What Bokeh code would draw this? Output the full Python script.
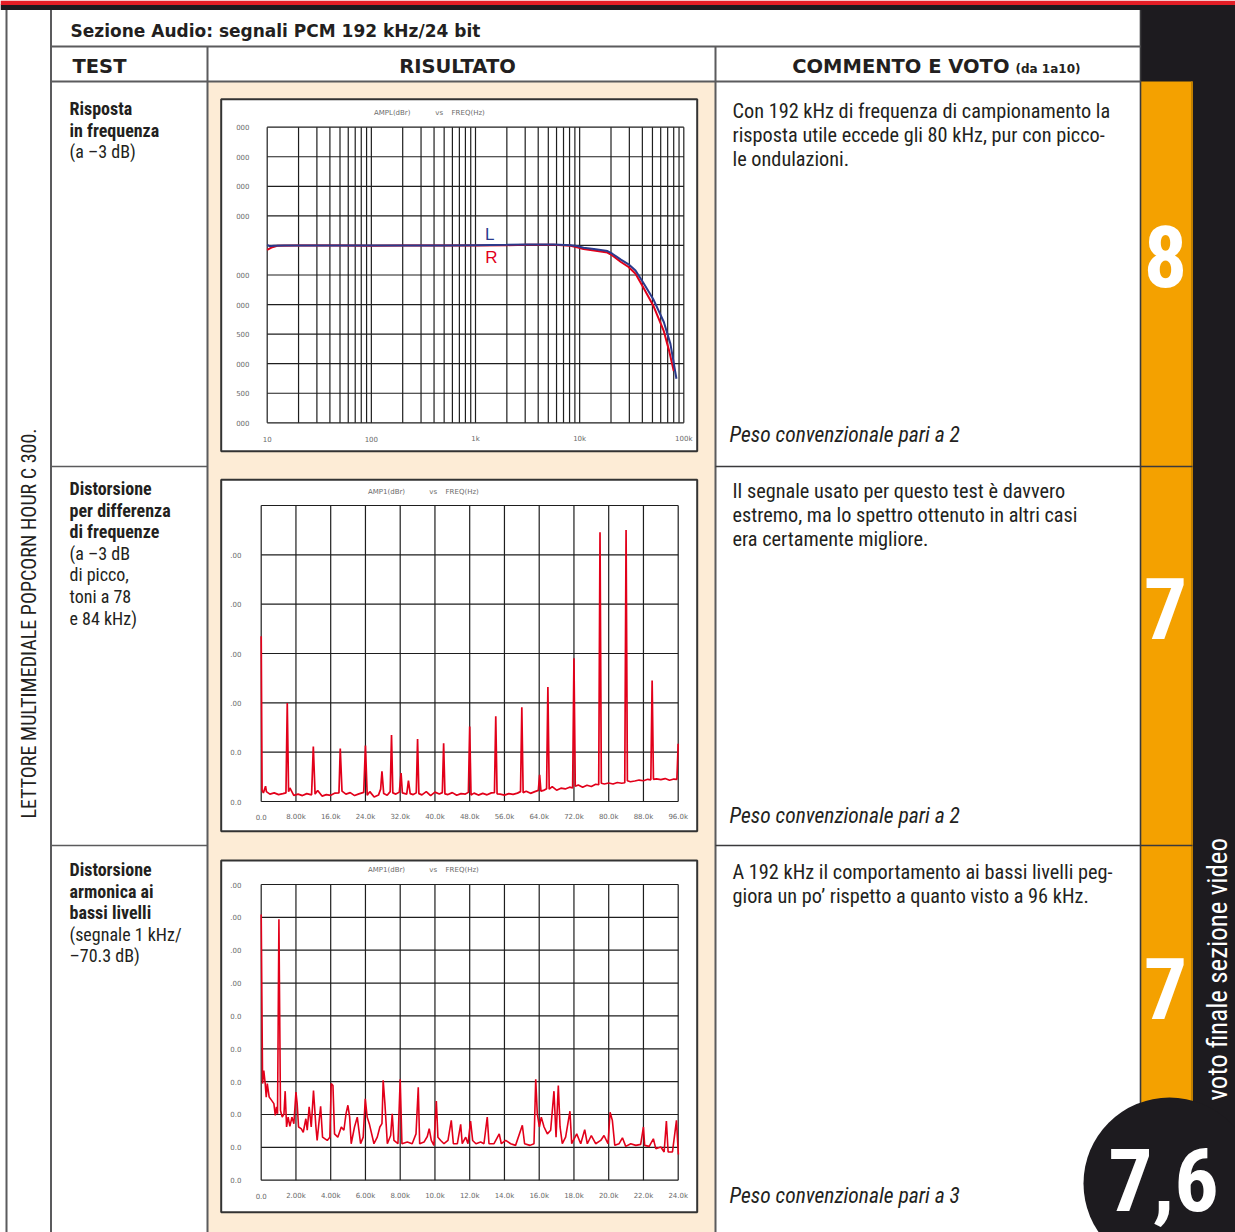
import math
from bokeh.plotting import figure
from bokeh.models import Range1d, LogScale
from bokeh.embed import file_html
from bokeh.resources import INLINE
from bokeh.core.properties import value

# ---------------- texts ----------------
section_title = "Sezione Audio: segnali PCM 192 kHz/24 bit"
hdr_test = "TEST"
hdr_result = "RISULTATO"
hdr_comment = "COMMENTO E VOTO"
hdr_note = "(da 1a10)"
side_label = "LETTORE MULTIMEDIALE POPCORN HOUR C 300."
final_label = "voto finale sezione video"
final_score = "7,6"
scores = ["8", "7", "7"]
test_bold = [["Risposta", "in frequenza"],
             ["Distorsione", "per differenza", "di frequenze"],
             ["Distorsione", "armonica ai", "bassi livelli"]]
test_plain = [["(a \u20133 dB)"],
              ["(a \u20133 dB", "di picco,", "toni a 78", "e 84 kHz)"],
              ["(segnale 1 kHz/", "\u201370.3 dB)"]]
comments = [["Con 192 kHz di frequenza di campionamento la",
             "risposta utile eccede gli 80 kHz, pur con picco-",
             "le ondulazioni."],
            ["Il segnale usato per questo test \u00e8 davvero",
             "estremo, ma lo spettro ottenuto in altri casi",
             "era certamente migliore."],
            ["A 192 kHz il comportamento ai bassi livelli peg-",
             "giora un po\u2019 rispetto a quanto visto a 96 kHz."]]
weights = ["Peso convenzionale pari a 2", "Peso convenzionale pari a 2",
           "Peso convenzionale pari a 3"]

# ---------------- chart 1: frequency response (Hz, dBr) ----------------
fr_freq_L = [10, 10.6, 11.6, 14.5, 20, 50, 100, 200, 500, 1000, 2000, 3130, 5650,
             8170, 9420, 10900, 13700, 18500, 20600, 24900, 29500, 34400, 41000,
             51300, 64300, 74400, 85000]
fr_ampl_L = [0.02, -0.03, -0.01, 0.0, 0.0, 0.0, 0.0, 0.0, 0.0, 0.01, 0.02, 0.03, 0.03,
             0.01, -0.02, -0.08, -0.12, -0.19, -0.28, -0.48, -0.64, -0.85, -1.27,
             -1.84, -2.59, -3.33, -4.51]
fr_freq_R = [10, 11.2, 12.5, 20, 50, 100, 200, 500, 1000, 2000, 3130, 5650, 8170,
             9420, 10900, 13700, 18500, 20600, 24900, 29500, 34400, 41000, 51300,
             64300, 72100, 80100]
fr_ampl_R = [-0.15, -0.06, -0.01, 0.0, 0.0, -0.01, 0.0, 0.0, 0.0, 0.01, 0.02, 0.02, -0.01,
             -0.06, -0.12, -0.17, -0.24, -0.34, -0.56, -0.73, -0.96, -1.43, -2.06,
             -2.90, -3.55, -4.25]
fr_x_ticks = [10, 100, 1000, 10000, 100000]
fr_x_labels = ["10", "100", "1k", "10k", "100k"]
fr_y_ticks = [4, 3, 2, 1, 0, -1, -2, -3, -4, -5, -6]
fr_y_labels = ["000", "000", "000", "000", "", "000", "000", "500", "000", "500", "000"]
fr_title = ["AMPL(dBr)", "vs", "FREQ(Hz)"]

# ---------------- chart 2: IMD spectrum (kHz, dBr) ----------------
imd_freq = [0.0, 0.2, 0.5, 1.0, 1.2, 2.0, 3.0, 4.0, 5.0, 5.7, 6.0, 6.3, 6.6, 7.5, 8.5,
            9.5, 10.5, 11.6, 12.0, 12.4, 13.0, 14.0, 15.0, 16.0, 17.0, 17.9, 18.2,
            18.6, 19.5, 20.5, 21.5, 22.5, 23.6, 24.0, 24.4, 25.0, 26.0, 27.0, 27.5,
            27.8, 28.2, 29.0, 29.7, 30.0, 30.3, 31.0, 31.8, 32.2, 32.5, 33.5, 33.9,
            34.3, 35.0, 35.7, 36.0, 36.3, 37.0, 38.0, 39.0, 40.0, 41.0, 41.7, 42.0,
            42.3, 43.0, 44.0, 45.0, 46.0, 47.0, 47.7, 48.0, 48.3, 49.0, 50.0, 51.0,
            52.0, 53.0, 53.7, 54.0, 54.3, 55.0, 56.0, 57.0, 58.0, 59.0, 59.7, 60.0,
            60.3, 61.0, 62.0, 63.0, 63.8, 64.1, 64.4, 65.0, 65.7, 66.0, 66.3, 67.0,
            68.0, 69.0, 70.0, 71.0, 71.7, 72.0, 72.3, 73.0, 74.0, 75.0, 76.0, 77.0,
            77.7, 78.0, 78.3, 79.0, 80.0, 81.0, 82.0, 83.0, 83.7, 84.0, 84.3, 85.0,
            86.0, 87.0, 88.0, 89.0, 89.7, 90.0, 90.3, 91.0, 92.0, 93.0, 94.0, 95.0,
            95.7, 96.0]
imd_level = [-53.0, -115.5, -116.5, -113.8, -116.0, -117.0, -116.5, -117.2, -116.8, -116.5,
             -80.1, -116.0, -114.5, -117.5, -117.0, -117.6, -116.8, -117.3, -97.7, -117.0,
             -115.5, -117.8, -117.2, -117.5, -116.6, -116.5, -98.5, -115.8, -117.0, -116.4,
             -117.6, -116.9, -116.3, -97.3, -117.5, -116.0, -118.2, -117.4, -115.0, -107.8,
             -116.8, -117.5, -116.0, -93.0, -116.5, -117.0, -116.2, -108.5, -116.5, -117.0,
             -111.5, -116.8, -117.2, -116.5, -94.7, -116.8, -117.3, -116.0, -117.6, -116.2,
             -117.0, -116.4, -96.4, -116.9, -117.2, -116.4, -117.5, -116.8, -117.0, -116.3,
             -89.6, -117.4, -116.6, -117.4, -116.7, -117.3, -116.5, -116.4, -85.4, -116.9,
             -117.0, -117.4, -116.8, -117.1, -116.6, -116.0, -81.8, -116.4, -115.8, -116.7,
             -116.0, -115.5, -109.2, -115.8, -115.5, -114.8, -73.6, -115.0, -114.0, -115.4,
             -114.6, -114.9, -114.2, -114.5, -61.9, -113.8, -113.3, -114.2, -113.4, -113.9,
             -113.0, -113.2, -10.8, -112.6, -112.9, -112.5, -112.9, -112.3, -112.6, -112.4,
             -9.9, -111.6, -112.0, -111.7, -111.3, -111.6, -111.0, -111.2, -70.9, -111.0,
             -110.8, -111.1, -110.7, -111.4, -110.9, -111.0, -96.6]
imd_x_ticks = [0, 8, 16, 24, 32, 40, 48, 56, 64, 72, 80, 88, 96]
imd_x_labels = ["0.0", "8.00k", "16.0k", "24.0k", "32.0k", "40.0k", "48.0k", "56.0k",
                "64.0k", "72.0k", "80.0k", "88.0k", "96.0k"]
imd_y_ticks = [0, -20, -40, -60, -80, -100, -120]
imd_y_labels = ["", ".00", ".00", ".00", ".00", "0.0", "0.0"]

# ---------------- chart 3: low level THD spectrum (kHz, dBr) ----------------
thd_freq = [0.00, 0.08, 0.15, 0.23, 0.29, 0.35, 0.46, 0.60, 0.73, 0.81, 0.88, 0.94, 1.02,
            1.11, 1.21, 1.31, 1.38, 1.46, 1.55, 1.65, 1.77, 1.88, 2.00, 2.07, 2.15, 2.30,
            2.42, 2.57, 2.65, 2.76, 2.88, 3.01, 3.15, 3.22, 3.42, 3.53, 3.80, 3.95, 4.03,
            4.13, 4.22, 4.41, 4.61, 4.76, 4.88, 4.99, 5.09, 5.18, 5.37, 5.53, 5.72, 5.87,
            5.99, 6.10, 6.22, 6.49, 6.68, 6.83, 6.95, 7.02, 7.12, 7.26, 7.45, 7.54, 7.64,
            7.87, 8.00, 8.10, 8.41, 8.69, 8.91, 9.04, 9.12, 9.37, 9.56, 9.67, 9.79, 9.94,
            10.08, 10.17, 10.33, 10.52, 10.75, 10.94, 11.06, 11.29, 11.48, 11.57, 11.77,
            11.90, 12.05, 12.17, 12.36, 12.63, 12.82, 13.01, 13.11, 13.40, 13.70, 13.82,
            14.07, 14.36, 14.64, 15.03, 15.16, 15.47, 15.70, 15.80, 15.89, 16.01, 16.12,
            16.28, 16.47, 16.66, 16.85, 16.97, 17.10, 17.20, 17.33, 17.52, 17.77, 17.87,
            18.16, 18.39, 18.62, 18.77, 19.00, 19.25, 19.54, 19.73, 19.96, 20.08, 20.21,
            20.35, 20.60, 20.79, 20.98, 21.27, 21.56, 21.84, 22.00, 22.07, 22.33, 22.57,
            22.71, 23.00, 23.19, 23.32, 23.42, 23.67, 23.90, 24.01]
thd_level = [-69.1, -120.6, -116.6, -120.6, -124.7, -120.6, -124.7, -125.7, -126.7, -130.3,
             -127.7, -129.8, -70.6, -128.8, -130.8, -129.8, -122.9, -133.8, -130.8, -133.6,
             -130.8, -132.8, -123.2, -126.7, -133.8, -134.3, -135.4, -131.3, -134.8, -127.7,
             -133.8, -122.7, -133.8, -137.9, -127.5, -136.9, -137.9, -136.9, -120.6, -121.2,
             -135.9, -136.9, -133.8, -134.8, -129.8, -127.2, -130.8, -138.9, -133.8, -130.8,
             -138.9, -136.9, -125.2, -130.8, -132.8, -138.9, -136.9, -133.8, -132.8, -119.6,
             -126.7, -138.9, -136.4, -129.8, -137.9, -138.9, -119.3, -138.9, -138.4, -138.9,
             -135.9, -121.7, -138.9, -138.4, -136.7, -134.3, -137.9, -139.4, -125.9, -136.9,
             -137.9, -138.9, -137.9, -131.8, -138.9, -138.9, -133.0, -138.9, -136.9, -138.9,
             -132.0, -137.9, -138.9, -138.4, -138.9, -130.8, -138.9, -138.9, -135.9, -138.9,
             -137.9, -138.9, -139.4, -133.3, -138.9, -139.4, -138.9, -119.3, -129.8, -133.8,
             -130.8, -133.8, -135.9, -134.8, -122.9, -136.9, -121.2, -133.8, -138.9, -136.9,
             -129.0, -138.9, -135.9, -138.9, -134.6, -138.9, -136.4, -138.9, -137.9, -136.4,
             -138.9, -129.3, -131.8, -139.4, -138.9, -137.1, -139.7, -138.9, -139.4, -139.1,
             -133.8, -139.4, -139.7, -137.4, -140.4, -139.9, -141.4, -132.0, -141.4, -141.4,
             -131.8, -142.2]
thd_x_ticks = [0, 2, 4, 6, 8, 10, 12, 14, 16, 18, 20, 22, 24]
thd_x_labels = ["0.0", "2.00k", "4.00k", "6.00k", "8.00k", "10.0k", "12.0k", "14.0k",
                "16.0k", "18.0k", "20.0k", "22.0k", "24.0k"]
thd_y_ticks = [-60, -70, -80, -90, -100, -110, -120, -130, -140, -150]
thd_y_labels = [".00", ".00", ".00", ".00", "0.0", "0.0", "0.0", "0.0", "0.0", "0.0"]
spec_title = ["AMP1(dBr)", "vs", "FREQ(Hz)"]

# ---------------- styles ----------------
RED_TOP = "#e41e26"
DARK = "#1d1b1f"
ORANGE = "#f4a100"
BEIGE = "#fdecd6"
LINE = "#5b5b5d"
TEXT = "#231f20"
TRACE_RED = "#e2001a"
TRACE_BLUE = "#2b3a8c"
GRID = "#1e1e1e"
LABEL = "#6a6a6a"
NARROW = "Roboto Condensed"
HEAD = "DejaVu Sans"
SMALL = "DejaVu Sans"

W, H = 1235, 1232
p = figure(width=W, height=H, x_range=Range1d(0, W), y_range=Range1d(H, 0),
           output_backend="svg", toolbar_location=None, min_border=0,
           x_axis_location=None, y_axis_location=None, outline_line_color=None,
           background_fill_color="white", border_fill_color="white")
p.grid.visible = False


def txt(x, y, s, size, font=NARROW, color=TEXT, style="normal", align="left",
        baseline="middle", angle=0.0):
    p.text(x=[x], y=[y], text=[s], text_font=value(font), text_font_size=f"{size}px",
           text_color=color, text_font_style=style, text_align=align,
           text_baseline=baseline, angle=angle)


def hline(y, x0, x1, color=LINE, w=1.6):
    p.segment(x0=[x0], y0=[y], x1=[x1], y1=[y], line_color=color, line_width=w)


def vline(x, y0, y1, color=LINE, w=1.6):
    p.segment(x0=[x], y0=[y0], x1=[x], y1=[y1], line_color=color, line_width=w)


# ---------------- page background ----------------
p.quad(left=[1140], right=[W], top=[4], bottom=[H], fill_color=DARK, line_color=None)
p.quad(left=[0], right=[W], top=[4], bottom=[9.5], fill_color=DARK, line_color=None)
p.quad(left=[0], right=[W], top=[0], bottom=[4.5], fill_color=RED_TOP, line_color=None)
p.quad(left=[207], right=[715], top=[81], bottom=[H], fill_color=BEIGE, line_color=None)
p.quad(left=[1140], right=[1192], top=[81], bottom=[H], fill_color=ORANGE, line_color=None)
vline(1191.5, 81, H, color="#c07f00", w=2)

# table lines
vline(6, 9.5, H, w=2)
vline(50.5, 9.5, H, w=2)
vline(207, 46, H, w=2)
vline(715, 46, H, w=2)
vline(1140, 9.5, H, color="#3a3a3c", w=1.6)
hline(46, 50, 1140, w=2)
hline(81, 50, 1140, w=2)
for yy in (466, 845):
    hline(yy, 50, 207, w=1.6)
    hline(yy, 715, 1192, color="#3a3a3c", w=1.6)

# final score badge
p.circle(x=[1169], y=[1183], radius=86, fill_color=DARK, line_color=None)

# ---------------- table texts ----------------
txt(70, 30, section_title, 17, font=HEAD, style="bold")
txt(72, 66, hdr_test, 19.5, font=HEAD, style="bold")
txt(457, 66, hdr_result, 19.5, font=HEAD, style="bold", align="center")
txt(1009, 66, hdr_comment, 19.5, font=HEAD, style="bold", align="right")
txt(1015, 68, hdr_note, 12, font=HEAD, style="bold")

row_tops = [108, 488, 869]
for r in range(3):
    y = row_tops[r]
    for s in test_bold[r]:
        txt(69, y, s, 18, style="bold")
        y += 21.6
    for s in test_plain[r]:
        txt(69, y, s, 18)
        y += 21.6

com_tops = [110, 490, 871]
for r in range(3):
    y = com_tops[r]
    for s in comments[r]:
        txt(732, y, s, 20.3)
        y += 24.3

for r, yy in enumerate([434, 815, 1195]):
    txt(729, yy, weights[r], 21.5, style="italic")

for r, yy in enumerate([256, 608, 988]):
    txt(1165, yy, scores[r], 86, color="white", style="bold", align="center")

txt(28, 818, side_label, 20, angle=math.pi / 2)
txt(1217, 1100, final_label, 27, color="white", angle=math.pi / 2)


# ---------------- charts ----------------
def lin_range(v_a, pg_a, v_b, pg_b, pg_start, pg_end):
    k = (v_b - v_a) / (pg_b - pg_a)
    return Range1d(start=v_a + (pg_start - pg_a) * k, end=v_a + (pg_end - pg_a) * k)


def log_range(v_a, pg_a, v_b, pg_b):
    la, lb = math.log10(v_a), math.log10(v_b)
    k = (lb - la) / (pg_b - pg_a)
    return Range1d(start=10 ** (la - pg_a * k), end=10 ** (la + (W - pg_a) * k))


charts = [
    dict(box=(220.7, 696.7, 479.3, 830.7), frame=(260.7, 677.7, 505, 801),
         title_y=491, title_x=(386, 432.7, 461.7), xlab_y=816.7, ylab_x=241),
    dict(box=(220.7, 696.7, 860, 1211.7), frame=(260.7, 677.7, 884, 1179.7),
         title_y=869.3, title_x=(386, 432.7, 461.7), xlab_y=1195.3, ylab_x=241),
    dict(box=(220.7, 696.7, 98.7, 450.7), frame=(266.7, 683.3, 126.7, 422.3),
         title_y=112.3, title_x=(391.7, 438.7, 467.7), xlab_y=438.3, ylab_x=249),
]

fr_grid = [m * 10 ** d for d in range(1, 5) for m in range(1, 10)] + [100000]

specs = [
    dict(xname="c2x", yname="c2y", xlim=(0, 96), ylim=(0, -120), log=False,
         xgrid=imd_x_ticks, ygrid=imd_y_ticks, xt=imd_x_ticks, xl=imd_x_labels,
         yt=imd_y_ticks, yl=imd_y_labels, title=spec_title,
         series=[(imd_freq, imd_level, TRACE_RED, 1.7)]),
    dict(xname="c3x", yname="c3y", xlim=(0, 24), ylim=(-60, -150), log=False,
         xgrid=thd_x_ticks, ygrid=thd_y_ticks, xt=thd_x_ticks, xl=thd_x_labels,
         yt=thd_y_ticks, yl=thd_y_labels, title=spec_title,
         series=[(thd_freq, thd_level, TRACE_RED, 1.6)]),
    dict(xname="c1x", yname="c1y", xlim=(10, 100000), ylim=(4, -6), log=True,
         xgrid=fr_grid, ygrid=fr_y_ticks, xt=fr_x_ticks, xl=fr_x_labels,
         yt=fr_y_ticks, yl=fr_y_labels, title=fr_title,
         series=[(fr_freq_R, fr_ampl_R, TRACE_RED, 2), (fr_freq_L, fr_ampl_L, TRACE_BLUE, 2)]),
]

xr, yr = {}, {}
for c, s in zip(charts, specs):
    fl, fr_, ft, fb = c["frame"]
    if s["log"]:
        xr[s["xname"]] = log_range(s["xlim"][0], fl, s["xlim"][1], fr_)
    else:
        xr[s["xname"]] = lin_range(s["xlim"][0], fl, s["xlim"][1], fr_, 0, W)
    yr[s["yname"]] = lin_range(s["ylim"][0], ft, s["ylim"][1], fb, H, 0)
p.extra_x_ranges = xr
p.extra_y_ranges = yr
p.extra_x_scales = {"c1x": LogScale()}

for c, s in zip(charts, specs):
    bl, br, bt, bb = c["box"]
    p.quad(left=[bl], right=[br], top=[bt], bottom=[bb], fill_color="white",
           line_color="#333333", line_width=2)
    p.text(x=list(c["title_x"]), y=[c["title_y"]] * 3, text=s["title"],
           text_font=value(SMALL), text_font_size="7px", text_color=LABEL,
           text_align="center", text_baseline="middle")
    xn, yn = s["xname"], s["yname"]
    x0, x1 = s["xlim"]
    ytop, ybot = s["ylim"]
    p.text(x=[c["ylab_x"]] * len(s["yt"]), y=s["yt"], text=s["yl"],
           text_font=value(SMALL), text_font_size="7px", text_color=LABEL,
           text_align="right", text_baseline="middle", y_range_name=yn)
    p.text(x=s["xt"], y=[c["xlab_y"]] * len(s["xt"]), text=s["xl"],
           text_font=value(SMALL), text_font_size="7px", text_color=LABEL,
           text_align="center", text_baseline="middle", x_range_name=xn)
    g = s["xgrid"]
    p.segment(x0=g, y0=[ybot] * len(g), x1=g, y1=[ytop] * len(g), line_color=GRID,
              line_width=1.2, x_range_name=xn, y_range_name=yn)
    g = s["ygrid"]
    p.segment(x0=[x0] * len(g), y0=g, x1=[x1] * len(g), y1=g, line_color=GRID,
              line_width=1.2, x_range_name=xn, y_range_name=yn)
    for xs, ys, col, lw in s["series"]:
        p.line(xs, ys, line_color=col, line_width=lw, x_range_name=xn, y_range_name=yn)

txt(489.3, 234, "L", 17, font="Liberation Sans", color=TRACE_BLUE, align="center")
txt(491, 257, "R", 17, font="Liberation Sans", color=TRACE_RED, align="center")
# font size avoids "100px"-style values (parsed as a font weight by the SVG backend)
txt(1163, 1179, final_score, 88, color="white", style="bold", align="center")

open("out.html", "w").write(file_html(p, INLINE))
